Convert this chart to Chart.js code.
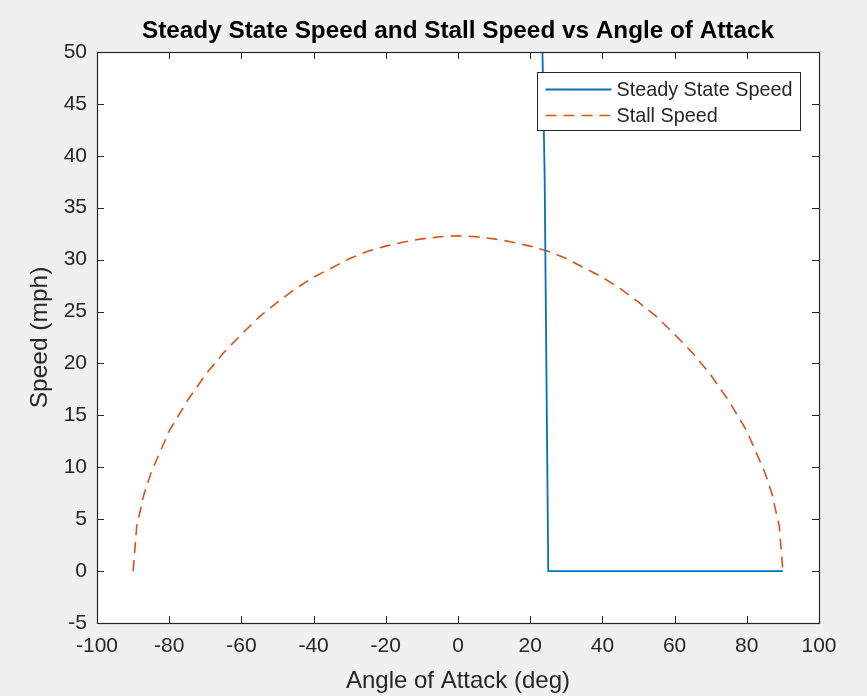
<!DOCTYPE html>
<html>
<head>
<meta charset="utf-8">
<script src="https://cdn.jsdelivr.net/npm/chart.js@4"></script>
<style>
  html, body { margin: 0; padding: 0; background: #f0f0f0; }
  #wrap { width: 867px; height: 696px; }
</style>
</head>
<body>
<div id="wrap"><canvas id="c" width="867" height="696"></canvas></div>
<script>
// ---- Data ----
const stallAngle = [-90, -89, -87, -85, -80, -75, -70, -65, -60, -55, -50, -45, -40, -35, -30, -25, -20, -15, -10, -5,
                    0, 5, 10, 15, 20, 25, 30, 35, 40, 45, 50, 55, 60, 65, 70, 75, 80, 85, 87, 89, 90];
const stallSpeed = [0, 4.3, 7.4, 9.5, 13.5, 16.4, 18.9, 21.0, 22.8, 24.5, 25.9, 27.2, 28.3, 29.2, 30.1, 30.8, 31.3, 31.7, 32.0, 32.2,
                    32.3, 32.2, 32.0, 31.7, 31.3, 30.8, 30.1, 29.2, 28.3, 27.2, 25.9, 24.5, 22.8, 21.0, 18.9, 16.4, 13.5, 9.5, 7.4, 4.3, 0];
const steadyAngle = [23, 24, 25, 30, 35, 40, 45, 50, 55, 60, 65, 70, 75, 80, 85, 90];
const steadySpeed = [58, 38, 0, 0, 0, 0, 0, 0, 0, 0, 0, 0, 0, 0, 0, 0];
const xTicks = [-100, -80, -60, -40, -20, 0, 20, 40, 60, 80, 100];
const yTicks = [-5, 0, 5, 10, 15, 20, 25, 30, 35, 40, 45, 50];

const seriesNames = ['Steady State Speed', 'Stall Speed'];
const titleText = 'Steady State Speed and Stall Speed vs Angle of Attack';
const xLabel = 'Angle of Attack (deg)';
const yLabel = 'Speed (mph)';

const FONT = '"Liberation Sans", Arial, Helvetica, sans-serif';
const AXIS = '#262626';

const toXY = (xs, ys) => xs.map((x, i) => ({ x: x, y: ys[i] }));

const framePlugin = {
  id: 'frame',
  beforeDatasetsDraw(chart) {
    const { ctx, chartArea: a } = chart;
    ctx.save();
    ctx.fillStyle = '#ffffff';
    ctx.fillRect(a.left, a.top, a.right - a.left, a.bottom - a.top);
    ctx.restore();
  },
  afterDatasetsDraw(chart) {
    const { ctx, chartArea: a, scales } = chart;
    ctx.save();
    // inward tick marks on all four sides
    ctx.strokeStyle = AXIS;
    ctx.lineWidth = 1;
    const tl = 7;
    ctx.beginPath();
    xTicks.forEach(v => {
      const px = Math.round(scales.x.getPixelForValue(v)) + 0.5;
      ctx.moveTo(px, a.bottom); ctx.lineTo(px, a.bottom - tl);
      ctx.moveTo(px, a.top); ctx.lineTo(px, a.top + tl);
    });
    yTicks.forEach(v => {
      const py = Math.round(scales.y.getPixelForValue(v)) + 0.5;
      ctx.moveTo(a.left, py); ctx.lineTo(a.left + tl, py);
      ctx.moveTo(a.right, py); ctx.lineTo(a.right - tl, py);
    });
    ctx.stroke();
    // box
    ctx.lineWidth = 1.2;
    ctx.strokeRect(Math.round(a.left) + 0.5, Math.round(a.top) + 0.5,
                   Math.round(a.right - a.left), Math.round(a.bottom - a.top));

    // legend (inside, top-right)
    const bw = 263, bh = 58;
    const bx = Math.round(a.right - 19 - bw) + 0.5;
    const by = Math.round(a.top + 20) + 0.5;
    ctx.fillStyle = '#ffffff';
    ctx.fillRect(bx, by, bw, bh);
    ctx.strokeStyle = AXIS;
    ctx.lineWidth = 1;
    ctx.strokeRect(bx, by, bw, bh);
    ctx.font = '19.8px ' + FONT;
    ctx.textBaseline = 'middle';
    ctx.textAlign = 'left';
    chart.data.datasets.forEach((ds, i) => {
      const cy = by + 17 + i * 26;
      ctx.save();
      ctx.strokeStyle = ds.borderColor;
      ctx.lineWidth = ds.borderWidth;
      ctx.setLineDash(ds.borderDash || []);
      ctx.beginPath();
      ctx.moveTo(bx + 8, cy);
      ctx.lineTo(bx + 74, cy);
      ctx.stroke();
      ctx.restore();
      ctx.fillStyle = '#262626';
      ctx.fillText(ds.label, bx + 79, cy + 1);
    });
    ctx.restore();
  }
};

new Chart(document.getElementById('c'), {
  type: 'line',
  data: {
    datasets: [
      {
        label: seriesNames[0],
        data: toXY(steadyAngle, steadySpeed),
        borderColor: '#0072BD',
        borderWidth: 1.8,
        pointRadius: 0,
        tension: 0,
        fill: false
      },
      {
        label: seriesNames[1],
        data: toXY(stallAngle, stallSpeed),
        borderColor: '#D95319',
        borderWidth: 1.6,
        borderDash: [11, 7],
        pointRadius: 0,
        tension: 0,
        fill: false
      }
    ]
  },
  options: {
    responsive: false,
    animation: false,
    events: [],
    layout: { padding: { left: 0, right: 48, top: 0, bottom: 0 } },
    plugins: {
      legend: { display: false },
      tooltip: { enabled: false },
      title: {
        display: true,
        text: titleText,
        fullSize: false,
        color: '#000000',
        font: { family: FONT, size: 24.3, weight: 'bold' },
        padding: { top: 17, bottom: 5.8 }
      }
    },
    scales: {
      x: {
        type: 'linear',
        min: -100, max: 100,
        afterBuildTicks: s => { s.ticks = xTicks.map(v => ({ value: v })); },
        afterFit: s => { s.height = 73; },
        grid: { display: false, drawTicks: false },
        border: { display: false },
        ticks: { color: '#262626', padding: 11, font: { family: FONT, size: 21 }, maxRotation: 0, autoSkip: false },
        title: { display: true, text: xLabel, color: '#262626', font: { family: FONT, size: 24 }, padding: { top: 0, bottom: 0 } }
      },
      y: {
        type: 'linear',
        min: -5, max: 50,
        afterBuildTicks: s => { s.ticks = yTicks.map(v => ({ value: v })); },
        afterFit: s => { s.width = 97; },
        grid: { display: false, drawTicks: false },
        border: { display: false },
        ticks: { color: '#262626', padding: 10, font: { family: FONT, size: 21 }, autoSkip: false },
        title: { display: true, text: yLabel, color: '#262626', font: { family: FONT, size: 24.5 }, padding: { top: 26, bottom: 0 } }
      }
    }
  },
  plugins: [framePlugin]
});
</script>
</body>
</html>
